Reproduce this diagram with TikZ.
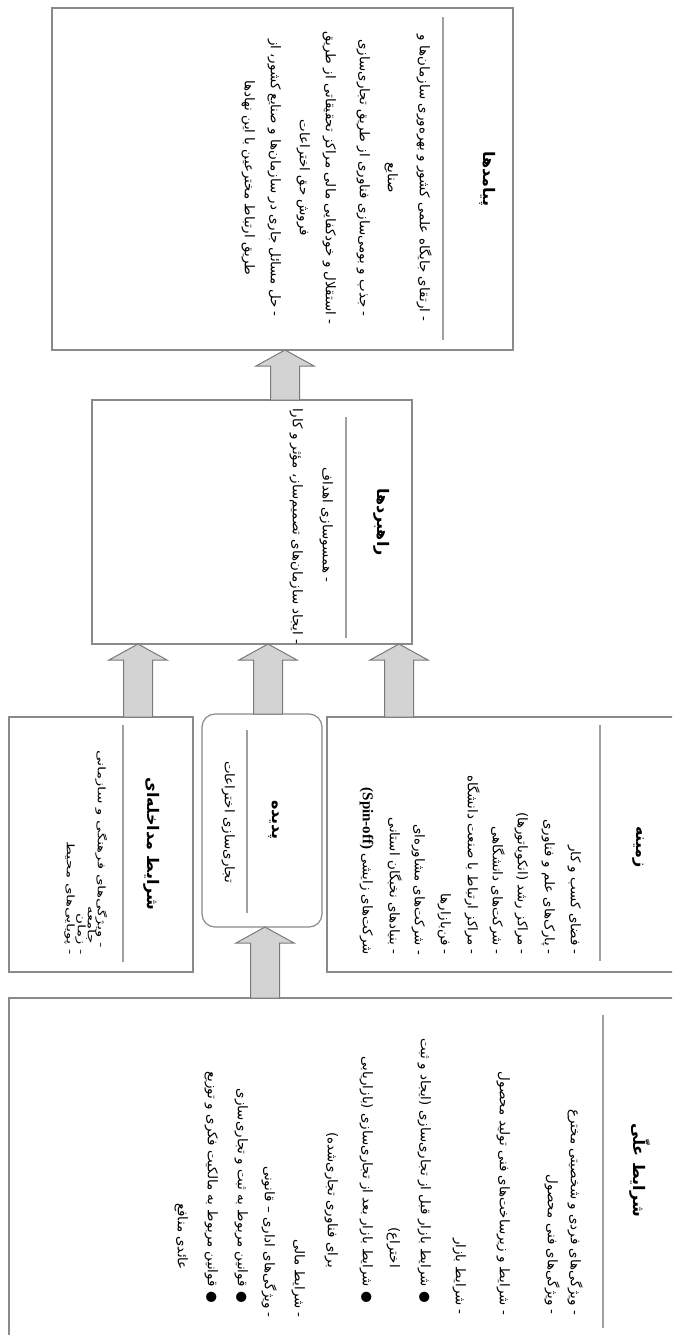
\documentclass[tikz,border=0pt]{standalone}
\usepackage{fontspec}
\usepackage{graphicx}
\usetikzlibrary{calc}
\TeXXeTstate=1
\newfontfamily\fa[Script=Arabic]{DejaVu Sans}
\newfontfamily\lat{Liberation Serif}
\definecolor{boxgray}{HTML}{8A8A8A}
\definecolor{divgray}{HTML}{A0A0A0}
\definecolor{arrfill}{HTML}{D3D3D3}
\definecolor{arrdraw}{HTML}{7A7A7A}
\newcommand{\fatext}[1]{\beginR #1\endR}
\newcommand{\squeezed}[1]{\scalebox{1.12}[0.78]{\beginR #1\endR}}
\tikzset{
  box/.style={draw=boxgray, line width=1.2pt, inner sep=0pt, outer sep=0pt, anchor=north west},
  divline/.style={draw=divgray, line width=1.1pt},
  titletext/.style={rotate=-90, inner sep=0pt, anchor=center, font=\fa\bfseries\fontsize{16}{19}\selectfont},
  bodytext/.style={rotate=-90, inner sep=0pt, font=\fa\fontsize{13.4}{15}\selectfont},
  rline/.style={bodytext, anchor=mid east},
  cline/.style={bodytext, anchor=mid},
  blockarr/.style={fill=arrfill, draw=arrdraw, line width=1pt, line join=miter},
}
\newcommand{\blockarrow}[2]{%
  \draw[blockarr] let \p1=#1, \p2=#2 in
    (\x1-14.5pt,\y1) -- (\x1-14.5pt,\y2-16pt) -- (\x1-29pt,\y2-16pt) -- (\x2,\y2)
    -- (\x1+29pt,\y2-16pt) -- (\x1+14.5pt,\y2-16pt) -- (\x1+14.5pt,\y1) -- cycle;}
\begin{document}
\begin{tikzpicture}[x=1pt, y=-1pt]
\useasboundingbox (0,0) rectangle (672,1335);
\clip (0,0) rectangle (672,1335);
\fill[white] (0,0) rectangle (672,1335);

% ---------- boxes ----------
\node[box, minimum width=461pt, minimum height=342pt] (out) at (52,8) {};
\node[box, minimum width=320pt, minimum height=244pt] (strat) at (92,400) {};
\node[box, minimum width=184pt, minimum height=255pt] (inter) at (9,717) {};
\node[box, rounded corners=13pt, minimum width=120pt, minimum height=213pt] (phen) at (202,714) {};
\node[box, minimum width=380pt, minimum height=255pt] (zem) at (327,717) {};
\node[box, minimum width=720pt, minimum height=420pt] (cause) at (9,998) {};

% ---------- dividers ----------
\draw[divline] (443,17) -- (443,340);
\draw[divline] (346,417) -- (346,638);
\draw[divline] (123,725) -- (123,962);
\draw[divline] (247,730) -- (247,913);
\draw[divline] (600,725) -- (600,961);
\draw[divline] (603,1015) -- (603,1328);

% ---------- titles ----------
\node[titletext] (outT) at (488,179) {\fatext{پیامدها}};
\node[titletext] (stratT) at (382,522) {\fatext{راهبردها}};
\node[titletext] (interT) at (152,844) {\fatext{شرایط مداخله‌ای}};
\node[titletext] (phenT) at (274,820) {\fatext{پدیده}};
\node[titletext] (zemT) at (638,847) {\fatext{زمینه}};
\node[titletext] (causeT) at (640,1170) {\fatext{شرایط علّی}};

% ---------- outcomes ----------
\node[cline] (o1) at (422,178) {\fatext{- ارتقای جایگاه علمی کشور و بهره‌وری سازمان‌ها و}};
\node[cline] (o2) at (390,178) {\fatext{صنایع}};
\node[cline] (o3) at (362,178) {\fatext{- جذب و بومی‌سازی فناوری از طریق تجاری‌سازی}};
\node[cline] (o4) at (328,178) {\fatext{- استقلال و خودکفایی مالی مراکز تحقیقاتی از طریق}};
\node[cline] (o5) at (302,178) {\fatext{فروش حق اختراعات}};
\node[cline] (o6) at (273,178) {\fatext{- حل مسائل جاری در سازمان‌ها و صنایع کشور، از}};
\node[cline] (o7) at (247,178) {\fatext{طریق ارتباط مخترعین با این نهادها}};

% ---------- strategies ----------
\node[cline] (s1) at (325,525) {\fatext{- همسوسازی اهداف}};
\node[cline] (s2) at (295,526) {\fatext{- ایجاد سازمان‌های تصمیم‌ساز، مؤثر و کارا}};

% ---------- intervening ----------
\node[rline] (i1) at (100,948) {\squeezed{- ویژگی‌های فرهنگی و سازمانی}};
\node[rline] (i2) at (90,944) {\squeezed{جامعه}};
\node[rline] (i3) at (80,955) {\squeezed{- زمان}};
\node[rline] (i4) at (69,955) {\squeezed{- پویایی‌های محیط}};

% ---------- phenomenon ----------
\node[cline] (p1) at (227,822) {\fatext{تجاری‌سازی اختراعات}};

% ---------- context ----------
\node[rline] (z1) at (573,955) {\fatext{- فضای کسب و کار}};
\node[rline] (z2) at (547,955) {\fatext{- پارک‌های علم و فناوری}};
\node[rline] (z3) at (520,955) {\fatext{- مراکز رشد (انکوباتورها)}};
\node[rline] (z4) at (495,955) {\fatext{- شرکت‌های دانشگاهی}};
\node[rline] (z5) at (470,955) {\fatext{- مراکز ارتباط با صنعت دانشگاه}};
\node[rline] (z6) at (443,955) {\fatext{- فن‌بازارها}};
\node[rline] (z7) at (417,955) {\fatext{- شرکت‌های مشاوره‌ای}};
\node[rline] (z8) at (392,955) {\fatext{- بنیادهای نخبگان استانی}};
\node[rline] (z9) at (365,955) {\fatext{شرکت‌های زایشی \beginL{\lat\bfseries\fontsize{15}{17}\selectfont(Spin-off)}\endL}};

% ---------- causal conditions ----------
\node[rline] (c1) at (573,1315) {\fatext{- ویژگی‌های فردی و شخصیتی مخترع}};
\node[rline] (c2) at (550,1315) {\fatext{- ویژگی‌های فنی محصول}};
\node[rline] (c3) at (502,1315) {\fatext{- شرایط و زیرساخت‌های فنی تولید محصول}};
\node[rline] (c4) at (458,1315) {\fatext{- شرایط بازار}};
\node[rline] (c5) at (423,1303) {\fatext{● شرایط بازار قبل از تجاری‌سازی (ایجاد و ثبت}};
\node[rline] (c6) at (392,1268) {\fatext{اختراع)}};
\node[rline] (c7) at (365,1303) {\fatext{● شرایط بازار بعد از تجاری‌سازی (بازاریابی}};
\node[rline] (c8) at (330,1268) {\fatext{برای فناوری تجاری‌شده)}};
\node[rline] (c9) at (297,1318) {\fatext{- شرایط مالی}};
\node[rline] (c10) at (267,1318) {\fatext{- ویژگی‌های اداری – قانونی}};
\node[rline] (c11) at (240,1303) {\fatext{● قوانین مربوط به ثبت و تجاری‌سازی}};
\node[rline] (c12) at (210,1303) {\fatext{● قوانین مربوط به مالکیت فکری و توزیع}};
\node[rline] (c13) at (180,1270) {\fatext{عائدی منافع}};

% ---------- block arrows ----------
\coordinate (xa) at (138,0);
\coordinate (xb) at (268,0);
\coordinate (xc) at (399,0);
\coordinate (xd) at (285,0);
\coordinate (xe) at (265,0);
\blockarrow{(strat.north -| xd)}{(out.south -| xd)}
\blockarrow{(inter.north -| xa)}{(strat.south -| xa)}
\blockarrow{(phen.north -| xb)}{(strat.south -| xb)}
\blockarrow{(zem.north -| xc)}{(strat.south -| xc)}
\blockarrow{(cause.north -| xe)}{(phen.south -| xe)}
\end{tikzpicture}
\end{document}
